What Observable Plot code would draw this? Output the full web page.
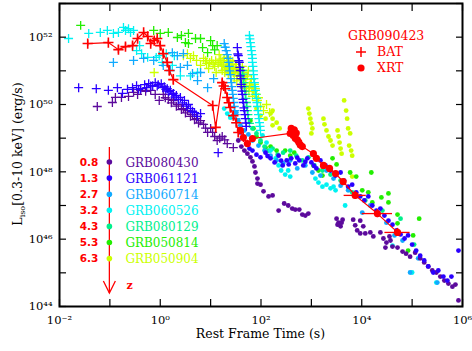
<!DOCTYPE html>
<html><head><meta charset="utf-8">
<script src="https://cdn.jsdelivr.net/npm/d3@7"></script>
<script src="https://cdn.jsdelivr.net/npm/@observablehq/plot@0.6"></script>
<style>
body{margin:0;background:#fff}
#chart svg{font-family:"DejaVu Serif",serif}
</style>
</head><body><div id="chart"></div>
<script>
// All values are [log10(t / s), log10(L / erg s^-1)]
const grbNames = ["GRB080430","GRB061121","GRB060714","GRB060526","GRB080129","GRB050814","GRB050904"];
const redshifts = ["0.8","1.3","2.7","3.2","4.3","5.3","6.3"];
const grbColors = ["#5c0a9c","#2a00ff","#10aaff","#00f2f2","#00f08c","#22ee00","#ccff00"];

const grb080430_bat = [[-1.25,49.94],[-0.95,50.06],[-0.89,50.21],[-0.77,50.21],[-0.63,50.24],[-0.53,50.36],[-0.45,50.3],[-0.39,50.42],[-0.29,50.39],[-0.19,50.42],[-0.10,50.30],[-0.02,50.12],[0.06,50.30],[0.10,50.2],[0.16,50.15],[0.22,50.05],[0.26,50.12],[0.32,49.95],[0.36,50.00],[0.42,49.85],[0.46,49.88],[0.50,49.75],[0.54,49.82],[0.60,49.65],[0.64,49.70],[0.68,49.55],[0.72,49.58],[0.76,49.45],[0.80,49.52],[0.86,49.41],[0.90,49.30],[0.94,49.17],[1.00,49.29],[1.04,49.17],[1.08,49.05],[1.13,48.93],[1.18,49.0],[1.23,49.05],[1.28,48.95],[1.33,48.84],[1.45,48.72]];
const grb080430_xrt = [[1.55,48.93],[1.61,48.75],[1.67,48.63],[1.73,48.54],[1.79,48.43],[1.83,48.31],[1.87,48.16],[1.89,47.98],[1.93,47.80],[1.93,47.65],[1.99,47.62],[2.05,47.42],[2.15,47.27],[2.23,47.30],[2.35,46.85],[2.46,47.06],[2.54,47.00],[2.62,46.91],[2.68,46.88],[2.76,46.88],[2.82,46.73],[2.88,46.70],[2.94,46.76],[3.50,46.61],[3.54,46.49],[3.58,46.38],[3.62,46.58],[3.52,46.43],[3.60,46.49],[3.83,46.58],[3.87,46.41],[3.91,46.26],[3.97,46.17],[4.03,46.38],[3.97,46.55],[4.07,46.17],[4.17,46.20],[4.23,46.08],[4.37,46.20],[4.43,46.02],[4.49,45.90],[4.55,46.08],[4.61,45.78],[4.57,45.96],[4.47,45.75],[4.71,45.75],[4.81,45.63],[4.88,45.57],[4.96,45.48],[5.06,45.60],[5.16,45.43],[5.24,45.31],[5.32,45.19],[5.40,45.07],[5.48,45.01],[5.56,44.89],[5.64,44.77],[5.72,44.68],[5.80,44.59],[5.86,44.65],[5.92,44.18]];

const grb061121_bat = [[-1.62,50.50],[-1.27,50.47],[-1.03,50.42],[-0.85,50.50],[-0.75,50.33],[-0.65,50.45],[-0.55,50.50],[-0.47,50.56],[-0.43,50.45],[-0.39,50.47],[-0.31,50.59],[-0.27,50.5],[-0.23,50.62],[-0.19,50.55],[-0.15,50.56],[-0.10,50.65],[-0.06,50.55],[-0.04,50.59],[0.02,50.62],[0.05,50.5],[0.08,50.53],[0.11,50.45],[0.14,50.47],[0.17,50.38],[0.20,50.42],[0.23,50.3],[0.26,50.33],[0.29,50.22],[0.32,50.27],[0.36,50.15],[0.40,50.21],[0.44,50.05],[0.48,50.12],[0.52,49.95],[0.56,50.00],[0.60,49.88],[0.64,49.8],[0.68,49.76],[0.74,49.65],[0.80,49.73],[1.15,48.57],[1.53,51.69],[1.54,51.5],[1.55,51.45],[1.56,51.3],[1.57,51.25],[1.58,51.1],[1.59,51.01],[1.59,50.85],[1.60,50.77],[1.61,50.6],[1.61,50.53],[1.62,50.4],[1.63,50.30],[1.64,50.15],[1.65,50.06],[1.66,49.9],[1.67,49.82],[1.68,49.7],[1.69,49.58],[1.70,49.45],[1.71,49.35]];
const grb061121_xrt = [[1.59,49.17],[1.65,48.99],[1.71,48.84],[1.77,48.69],[1.83,48.63],[1.91,48.51],[1.99,48.43],[2.09,48.57],[2.19,48.40],[2.27,48.28],[2.35,48.48],[2.43,48.19],[2.51,48.34],[2.60,48.40],[2.68,48.25],[2.76,48.34],[2.84,48.19],[2.92,48.40],[3.00,48.28],[3.10,48.10],[3.18,48.34],[3.28,48.19],[3.38,48.04],[3.48,47.89],[3.58,47.98],[3.65,47.74],[3.73,47.56],[3.81,47.62],[3.89,47.39],[3.97,47.27],[4.05,47.15],[4.13,47.27],[4.21,47.00],[4.29,46.85],[4.37,46.91],[4.45,46.70],[4.53,46.55],[4.61,46.43],[4.69,46.26],[4.77,46.14],[4.85,46.02],[4.92,46.11],[5.00,45.84],[5.08,45.66],[5.16,45.51],[5.24,45.37],[5.32,45.19],[5.42,45.01],[5.52,45.07],[5.62,44.89],[5.70,44.77],[5.78,44.89],[5.92,45.66],[2.13,48.47],[2.40,48.33],[2.55,48.22],[2.72,48.42],[2.88,48.30],[3.05,48.18]];

const grb060714_bat = [[-0.93,51.25],[-0.53,51.31],[-0.33,51.37],[-0.13,51.31],[0.06,51.16],[0.20,51.01],[0.24,51.54],[0.34,51.45],[0.46,51.51],[0.40,51.10],[0.54,51.16],[0.64,50.92],[0.74,50.71],[0.80,50.95],[0.94,50.50],[1.06,50.77],[1.27,51.81],[1.29,51.7],[1.31,51.60],[1.33,51.48],[1.35,51.37],[1.36,51.25],[1.37,51.13],[1.38,51.0],[1.39,50.89],[1.40,50.77],[1.41,50.65],[1.42,50.53],[1.43,50.42],[1.44,50.3],[1.45,50.18],[1.46,50.06],[1.47,49.94],[1.48,49.82],[1.49,49.70],[1.50,49.58],[1.51,49.46]];
const grb060714_xrt = [[1.51,49.76],[1.55,49.52],[1.59,49.38],[1.67,49.23],[1.75,49.11],[1.83,48.93],[1.95,48.78],[2.07,48.63],[2.19,48.48],[2.31,48.34],[2.44,48.25],[2.58,48.34],[2.72,48.10],[2.88,48.19],[3.02,47.98],[3.18,47.89],[3.30,48.04],[3.44,47.80],[3.58,47.59],[3.73,47.45],[3.87,47.27],[4.01,46.79],[4.17,47.00],[4.33,46.73],[4.49,46.49],[4.65,46.11],[4.81,45.96],[4.96,45.01],[5.12,45.43],[5.50,44.71]];

const grb060526_bat = [[-1.82,51.96],[-1.42,52.11],[-1.19,52.14],[-1.05,52.20],[-0.93,52.11],[-0.83,52.14],[-0.73,52.29],[-0.69,52.20],[-0.63,52.25],[-0.59,52.14],[-0.53,52.2],[-0.47,51.60],[-0.41,51.75],[-0.37,51.51],[-0.25,51.40],[-0.08,51.40],[-0.02,51.45],[0.04,51.25],[0.12,51.51],[0.24,51.16],[0.28,51.45],[0.40,50.85],[0.60,50.85],[0.74,50.95],[1.77,52.05],[1.78,51.95],[1.79,51.84],[1.80,51.72],[1.81,51.60],[1.82,51.48],[1.83,51.37],[1.83,51.25],[1.84,51.13],[1.85,51.0],[1.85,50.89],[1.86,50.77],[1.87,50.65],[1.88,50.53],[1.89,50.42],[1.90,50.3],[1.91,50.18],[1.92,50.06],[1.93,49.94],[1.94,49.82],[1.95,49.70],[1.96,49.58],[1.97,49.46],[1.98,49.35],[1.99,49.23]];
const grb060526_xrt = [[1.27,49.88],[1.33,49.73],[1.39,49.61],[2.03,49.08],[2.11,48.87],[2.19,48.63],[2.29,48.40],[2.35,48.19],[2.40,48.04],[2.48,47.92],[2.58,47.86],[2.54,48.04],[3.08,47.80],[3.14,47.68],[3.22,47.56],[3.30,47.62],[3.38,47.51],[3.48,47.45],[3.44,47.56],[3.67,47.00],[4.61,45.81],[5.00,45.01],[5.48,44.71]];

const grb080129_bat = [[1.63,51.01],[1.64,50.9],[1.65,50.77],[1.66,50.65],[1.67,50.53],[1.68,50.4],[1.69,50.30],[1.70,50.18],[1.71,50.06],[1.72,49.94],[1.73,49.82],[1.74,49.7],[1.75,49.58],[1.77,49.44]];
const grb080129_xrt = [[1.83,49.29],[1.91,49.14],[1.99,48.93],[2.07,48.75],[2.15,48.63],[2.23,48.69],[2.33,48.51],[2.44,48.57],[2.58,48.63],[2.70,48.48],[2.82,48.34],[2.94,48.43],[3.06,48.19],[3.22,48.04],[3.38,47.92],[3.58,47.74],[3.81,47.39],[4.07,47.15],[4.41,46.85],[4.77,46.61],[5.04,45.84]];

const grb050814_bat = [[-1.58,52.35],[-0.13,52.20],[0.00,52.11],[0.16,52.14],[0.34,51.99],[0.42,52.05],[0.50,51.84],[0.56,52.11],[0.56,51.81],[0.70,51.96],[0.80,51.96],[0.84,51.69],[0.94,51.54],[1.00,51.90],[1.04,51.75],[1.13,51.75],[1.08,51.62]];
const grb050814_xrt = [[1.79,49.52],[1.85,49.29],[1.91,49.05],[1.99,48.87],[2.09,48.72],[2.19,48.75],[2.31,48.63],[2.48,48.63],[2.58,48.48],[2.66,48.57],[3.04,48.19],[3.14,48.04],[3.22,47.89],[3.42,48.40],[3.50,48.22],[3.77,47.98],[3.89,47.86],[4.01,47.45],[4.13,47.39],[4.19,47.98],[4.21,47.09],[4.39,47.24],[4.53,47.36],[4.53,47.09],[4.71,46.73],[4.71,46.47],[5.02,46.11],[4.92,45.66],[5.14,46.61]];

const grb050904_bat = [[-0.12,50.95],[0.46,51.45],[0.54,51.51],[0.60,51.37],[0.66,51.45],[0.72,51.31],[0.80,51.16],[0.86,51.37],[0.90,51.3],[0.92,51.22],[0.96,51.07],[0.98,51.25],[1.02,51.31],[1.05,51.2],[1.08,51.13],[1.10,51.3],[1.11,50.95],[1.15,51.2],[1.17,51.48],[1.19,51.25],[1.20,51.35],[1.23,51.01],[1.25,51.2],[1.27,51.37],[1.29,51.05],[1.31,51.13],[1.33,51.25],[1.35,50.89],[1.37,51.0],[1.39,51.31],[1.41,51.2],[1.43,51.07],[1.45,50.95],[1.47,50.77],[1.49,51.1],[1.51,51.19],[1.53,50.85],[1.55,50.95],[1.57,51.05],[1.59,50.59],[1.61,50.75],[1.63,51.13],[1.65,50.95],[1.67,50.83],[1.69,50.65],[1.71,50.47],[1.73,50.85],[1.75,51.01],[1.77,50.55],[1.79,50.65],[1.81,50.75],[1.83,50.24],[1.85,50.4],[1.87,50.6],[1.89,50.47],[1.91,50.3],[1.93,50.12],[1.95,50.2],[1.99,49.94],[2.05,49.82],[2.11,50.00],[2.17,49.76],[1.22,51.15],[1.28,50.95],[1.34,51.1],[1.40,50.92],[1.46,51.05],[1.52,50.7],[1.58,50.85],[1.64,50.6],[1.70,50.75],[1.76,50.4],[1.82,50.5],[1.88,50.3],[1.26,51.3],[1.32,51.4],[1.38,51.18],[1.44,51.28],[1.50,50.98],[1.56,51.12]];
const grb050904_xrt = [[1.91,49.88],[1.99,49.67],[2.09,49.58],[2.19,49.73],[2.23,49.82],[2.23,49.58],[2.23,49.38],[2.31,49.46],[2.37,49.29],[2.94,49.88],[2.96,49.73],[2.98,49.58],[3.00,49.44],[3.02,49.29],[3.00,49.14],[3.24,49.58],[3.26,49.41],[3.30,49.23],[3.34,49.05],[3.38,48.93],[3.42,48.78],[3.52,49.23],[3.54,49.05],[3.56,48.87],[3.58,48.69],[3.60,48.54],[3.65,50.12],[3.69,49.82],[3.71,49.58],[3.73,49.29],[3.77,49.14],[3.75,48.78],[3.79,48.63],[3.81,48.48],[3.81,47.86]];

// GRB090423: BAT [log t, log L, log-L error]; XRT [log t, log L, log-t error, log-L error]
const grb090423_bat = [[-1.44,51.81,0.08],[-1.03,51.84,0.06],[-0.83,51.63,0.12],[-0.69,51.72,0.1],[-0.55,51.75,0.1],[-0.45,51.96,0.08],[-0.33,52.14,0.05],[-0.25,52.02,0.06],[-0.19,51.81,0.1],[-0.12,51.9,0.08],[-0.06,51.96,0.06],[0.0,51.75,0.08],[0.06,51.51,0.1],[0.14,51.25,0.12],[0.18,51.01,0.15],[0.26,50.74,0.15],[1.04,49.97,0.12],[1.10,49.32,0.15],[1.23,50.65,0.1],[1.26,50.55,0.1],[1.29,50.47,0.1],[1.33,50.21,0.12],[1.36,50.05,0.12],[1.39,49.91,0.12],[1.45,49.67,0.12],[1.51,49.46,0.12],[1.55,49.17,0.15]];
const grb090423_xrt = [[1.59,49.23,0,0.08],[1.65,49.02,0,0.15],[1.73,48.84,0,0.1],[1.83,48.99,0,0.08],[2.58,49.14,0,0.06],[2.60,49.29,0,0.06],[2.62,49.2,0,0.06],[2.64,49.08,0,0.06],[2.66,49.25,0,0.06],[2.68,49.0,0,0.06],[2.70,49.15,0,0.06],[2.72,48.95,0,0.06],[2.75,48.88,0,0.06],[2.78,48.8,0,0.06],[2.82,48.75,0,0.06],[3.04,48.54,0,0.08],[3.10,48.4,0,0.08],[3.24,48.19,0,0.08],[3.36,48.1,0,0.08],[3.48,47.95,0,0.08],[3.63,47.71,0,0.08],[3.87,47.3,0.22,0.12],[4.31,46.76,0.3,0.12],[4.71,46.2,0.25,0.12]];

const xTickExps = [-2,-1,0,1,2,3,4,5,6];
const xLabelExps = [-2,0,2,4,6];
const yTickExps = [44,45,46,47,48,49,50,51,52,53];
const yLabelExps = [44,46,48,50,52];

const sup = {"-":"\u207B","0":"\u2070","1":"\u00B9","2":"\u00B2","3":"\u00B3","4":"\u2074","5":"\u2075","6":"\u2076","7":"\u2077","8":"\u2078","9":"\u2079"};
const pow10 = d => "10" + String(Math.round(Math.log10(d))).split("").map(c => sup[c]).join("");

const rows = (arr, grb) => arr.map(([a, b]) => ({t: 10 ** a, L: 10 ** b, grb}));
const batSets = [grb080430_bat, grb061121_bat, grb060714_bat, grb060526_bat, grb080129_bat, grb050814_bat, grb050904_bat];
const xrtSets = [grb080430_xrt, grb061121_xrt, grb060714_xrt, grb060526_xrt, grb080129_xrt, grb050814_xrt, grb050904_xrt];
// draw order: yellow-green first, red last
const order = [6, 5, 4, 3, 2, 0, 1];

const batRed = grb090423_bat.map(([a, b, e]) => ({t: 10 ** a, L: 10 ** b, lo: 10 ** (b - e), hi: 10 ** (b + e)}));
const xrtRed = grb090423_xrt.map(([a, b, et, e]) => ({t: 10 ** a, L: 10 ** b, t1: 10 ** (a - et), t2: 10 ** (a + et), lo: 10 ** (b - e), hi: 10 ** (b + e), et}));
const redPath = [...batRed, ...xrtRed];

const marks = [];
for (const i of order) {
  marks.push(Plot.dot(rows(batSets[i], grbNames[i]), {x: "t", y: "L", symbol: "plus", r: 3, stroke: grbColors[i], strokeWidth: 1.3}));
  marks.push(Plot.dot(rows(xrtSets[i], grbNames[i]), {x: "t", y: "L", r: 2.4, fill: grbColors[i], stroke: "none"}));
}
marks.push(Plot.line(redPath, {x: "t", y: "L", stroke: "#ff0000", strokeWidth: 1.2}));
marks.push(Plot.ruleX(batRed, {x: "t", y1: "lo", y2: "hi", stroke: "#ff0000", strokeWidth: 1.3}));
marks.push(Plot.dot(batRed, {x: "t", y: "L", symbol: "plus", r: 3.4, stroke: "#ff0000", strokeWidth: 1.6}));
marks.push(Plot.ruleX(xrtRed, {x: "t", y1: "lo", y2: "hi", stroke: "#ff0000", strokeWidth: 1.3}));
marks.push(Plot.ruleY(xrtRed.filter(d => d.et > 0), {y: "L", x1: "t1", x2: "t2", stroke: "#ff0000", strokeWidth: 1.3}));
marks.push(Plot.dot(xrtRed, {x: "t", y: "L", r: 3.6, fill: "#ff0000", stroke: "none"}));

// axes: inward ticks on all four sides, labels at even decades
const xt = xTickExps.map(e => 10 ** e), xl = xLabelExps.map(e => 10 ** e);
const yt = yTickExps.map(e => 10 ** e), yl = yLabelExps.map(e => 10 ** e);
marks.push(
  Plot.axisX({anchor: "bottom", ticks: xt, tickSize: -7, tickFormat: () => "", label: null, strokeWidth: 1.2}),
  Plot.axisX({anchor: "top", ticks: xt, tickSize: -7, tickFormat: () => "", label: null, strokeWidth: 1.2}),
  Plot.axisY({anchor: "left", ticks: yt, tickSize: -7, tickFormat: () => "", label: null, strokeWidth: 1.2}),
  Plot.axisY({anchor: "right", ticks: yt, tickSize: -7, tickFormat: () => "", label: null, strokeWidth: 1.2}),
  Plot.axisX({anchor: "bottom", ticks: xl, tickSize: 0, tickPadding: 9, tickFormat: pow10, label: null, fontSize: 11.5, fill: "#000"}),
  Plot.axisY({anchor: "left", ticks: yl, tickSize: 0, tickPadding: 7, tickFormat: pow10, label: null, fontSize: 11.5, fill: "#000"}),
  Plot.frame({stroke: "#000", strokeWidth: 2})
);

const plot = Plot.plot({
  width: 472, height: 351,
  marginLeft: 59, marginRight: 10, marginTop: 3, marginBottom: 45,
  x: {type: "log", domain: [1e-2, 1e6]},
  y: {type: "log", domain: [1e44, 1e53]},
  style: {fontFamily: "DejaVu Serif", background: "#fff"},
  marks
});
document.getElementById("chart").appendChild(plot);

// annotations (axis titles and legends)
const svg = d3.select(plot);
const xs = plot.scale("x");
svg.append("text").attr("x", 260.5).attr("y", 338).attr("text-anchor", "middle")
  .attr("font-size", 12.5).attr("fill", "#000").text("Rest Frame Time (s)");
const yl2 = svg.append("text").attr("transform", "translate(22,154) rotate(-90)").attr("text-anchor", "middle")
  .attr("font-size", 12.5).attr("fill", "#000");
yl2.append("tspan").text("L");
yl2.append("tspan").attr("font-size", 8).attr("dy", 3).text("iso");
yl2.append("tspan").attr("dy", -3).text("[0.3-10 keV] (erg/s)");

// redshift legend along an arrow at t = 0.1 s
const lx = xs.apply(0.1);
const g = svg.append("g").attr("text-anchor", "start");
g.append("line").attr("x1", lx).attr("x2", lx).attr("y1", 147).attr("y2", 293).attr("stroke", "#ff0000").attr("stroke-width", 1.3);
g.append("polyline").attr("points", `${lx - 6},281 ${lx},293 ${lx + 6},281`).attr("fill", "none").attr("stroke", "#ff0000").attr("stroke-width", 1.3);
g.append("text").attr("x", lx + 17).attr("y", 289).attr("text-anchor", "start").attr("font-size", 11).attr("font-weight", "bold").attr("fill", "#ff0000").text("z");
grbNames.forEach((name, i) => {
  const yy = 162 + i * 16.1;
  g.append("circle").attr("cx", lx).attr("cy", yy).attr("r", 2.8).attr("fill", grbColors[i]);
  g.append("text").attr("x", lx - 11).attr("y", yy + 3.5).attr("text-anchor", "end").attr("font-size", 10.5).attr("font-weight", "bold").attr("font-family", "DejaVu Sans").attr("fill", "#ff0000").text(redshifts[i]);
  g.append("text").attr("x", lx + 16).attr("y", yy + 4.5).attr("text-anchor", "start").attr("font-size", 12).attr("fill", grbColors[i]).text(name);
});

// GRB090423 legend (top right)
const r = svg.append("g").attr("text-anchor", "start");
r.append("text").attr("x", 348).attr("y", 40).attr("text-anchor", "start").attr("font-size", 12.5).attr("fill", "#ff0000").text("GRB090423");
r.append("path").attr("d", "M356,52H366M361,47V57").attr("stroke", "#ff0000").attr("stroke-width", 1.5);
r.append("text").attr("x", 377).attr("y", 56).attr("text-anchor", "start").attr("font-size", 12.5).attr("fill", "#ff0000").text("BAT");
r.append("circle").attr("cx", 361).attr("cy", 68).attr("r", 3.6).attr("fill", "#ff0000");
r.append("text").attr("x", 377).attr("y", 72).attr("text-anchor", "start").attr("font-size", 12.5).attr("fill", "#ff0000").text("XRT");
</script>
</body></html>
